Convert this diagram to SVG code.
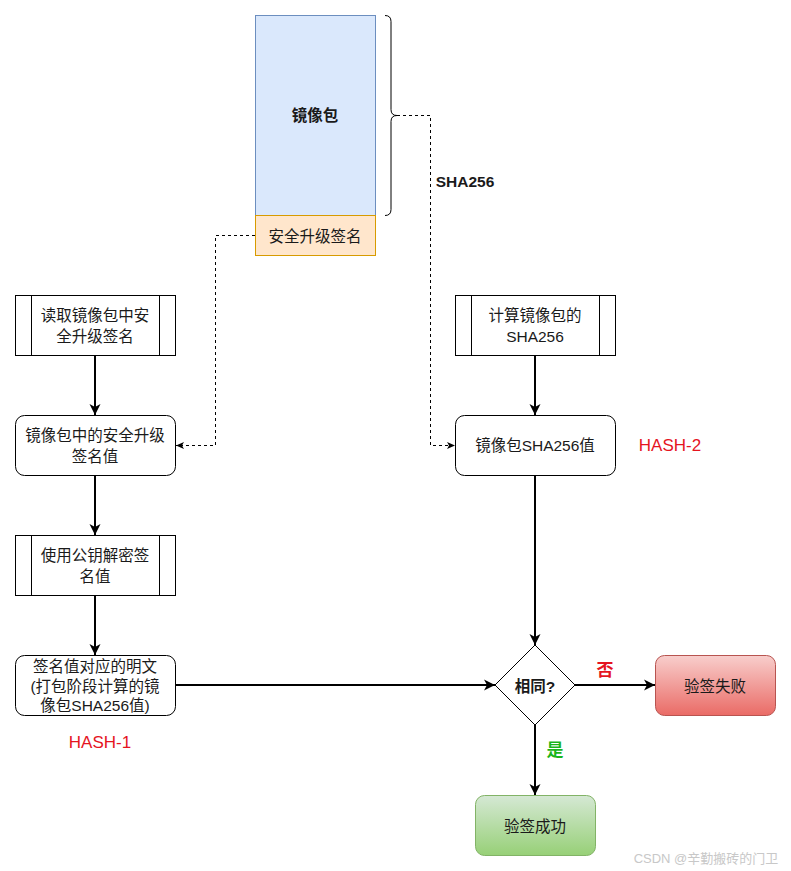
<svg xmlns="http://www.w3.org/2000/svg" width="791" height="871" viewBox="0 0 791 871">
<defs>
<style>
text{font-family:"Liberation Sans","Noto Sans CJK SC",sans-serif;font-size:15.5px;fill:#1a1a1a;text-anchor:middle;dominant-baseline:central}
.b{font-weight:bold}
.box{fill:#fff;stroke:#000;stroke-width:1}
.main{fill:none;stroke:#000;stroke-width:2}
.dash{fill:none;stroke:#000;stroke-width:1;stroke-dasharray:3 3}
.red{fill:#e5141f}
.green{fill:#1ab51a}
</style>
<marker id="ah" markerUnits="userSpaceOnUse" viewBox="0 0 12 12" refX="11" refY="6" markerWidth="12" markerHeight="12" orient="auto">
<path d="M0,0.5 L11,6 L0,11.5 L3,6 z" fill="#000"/>
</marker>
<marker id="ahs" markerUnits="userSpaceOnUse" viewBox="0 0 8 8" refX="8" refY="4" markerWidth="8" markerHeight="8" orient="auto">
<path d="M0,0.5 L8,4 L0,7.5 L2,4 z" fill="#000"/>
</marker>
<linearGradient id="gr" x1="0" y1="0" x2="0" y2="1">
<stop offset="0" stop-color="#f8cecc"/><stop offset="1" stop-color="#ea6b66"/>
</linearGradient>
<linearGradient id="gg" x1="0" y1="0" x2="0" y2="1">
<stop offset="0" stop-color="#d5e8d4"/><stop offset="1" stop-color="#97d077"/>
</linearGradient>
</defs>
<rect width="791" height="871" fill="#fff"/>

<g id="connectors">
<path class="dash" d="M397,115.5 H430.5 V445.5 H455" marker-end="url(#ahs)"/>
<path class="dash" d="M255,235.5 H215.5 V445.5 H176" marker-end="url(#ahs)"/>
<path class="main" d="M95,355 V415" marker-end="url(#ah)"/>
<path class="main" d="M95,475 V535" marker-end="url(#ah)"/>
<path class="main" d="M95,595 V655" marker-end="url(#ah)"/>
<path class="main" d="M535,355 V415" marker-end="url(#ah)"/>
<path class="main" d="M535,475 V645" marker-end="url(#ah)"/>
<path class="main" d="M175,685 H495" marker-end="url(#ah)"/>
<path class="main" d="M575,685 H655" marker-end="url(#ah)"/>
<path class="main" d="M535,725 V795" marker-end="url(#ah)"/>
</g>

<g id="image-pkg">
<rect x="255.5" y="15.5" width="120" height="200" fill="#dae8fc" stroke="#6c8ebf"/>
<text class="b" x="315" y="115">镜像包</text>
</g>
<g id="sig">
<rect x="255.5" y="215.5" width="120" height="40" fill="#ffe6cc" stroke="#d79b00"/>
<text x="315" y="236">安全升级签名</text>
</g>
<g id="brace">
<path d="M385,15.5 Q391,15.5 391,21.5 L391,109.5 Q391,115.5 397,115.5 Q391,115.5 391,121.5 L391,209.5 Q391,215.5 385,215.5" fill="none" stroke="#000" stroke-width="1"/>
<text class="b" x="465" y="181">SHA256</text>
</g>

<g id="read-sig">
<rect class="box" x="15.5" y="295.5" width="160" height="60"/>
<path d="M31.5,295.5 V355.5 M159.5,295.5 V355.5" stroke="#000" fill="none"/>
<text x="95" y="315">读取镜像包中安</text>
<text x="95" y="336">全升级签名</text>
</g>
<g id="sig-value">
<rect class="box" x="15.5" y="415.5" width="160" height="60" rx="9"/>
<text x="95" y="435">镜像包中的安全升级</text>
<text x="95" y="456">签名值</text>
</g>
<g id="decrypt">
<rect class="box" x="15.5" y="535.5" width="160" height="60"/>
<path d="M31.5,535.5 V595.5 M159.5,535.5 V595.5" stroke="#000" fill="none"/>
<text x="95" y="555">使用公钥解密签</text>
<text x="95" y="576">名值</text>
</g>
<g id="plain">
<rect class="box" x="15.5" y="655.5" width="160" height="60" rx="9"/>
<text x="95" y="666">签名值对应的明文</text>
<text x="95" y="686">(打包阶段计算的镜</text>
<text x="95" y="705">像包SHA256值)</text>
</g>
<text class="red" x="100" y="742" style="font-size:17px">HASH-1</text>

<g id="calc">
<rect class="box" x="455.5" y="295.5" width="160" height="60"/>
<path d="M471.5,295.5 V355.5 M599.5,295.5 V355.5" stroke="#000" fill="none"/>
<text x="535" y="315">计算镜像包的</text>
<text x="535" y="336">SHA256</text>
</g>
<g id="hash-value">
<rect class="box" x="455.5" y="415.5" width="160" height="60" rx="9"/>
<text x="535" y="445">镜像包SHA256值</text>
</g>
<text class="red" x="670" y="445" style="font-size:17px">HASH-2</text>

<g id="same">
<path d="M535,645 L575,685 L535,725 L495,685 Z" fill="#fff" stroke="#000"/>
<text class="b" x="535" y="686">相同?</text>
</g>
<text class="b red" x="605" y="670" style="font-size:17px">否</text>
<text class="b green" x="555" y="750" style="font-size:17px">是</text>

<g id="fail">
<rect x="655.5" y="655.5" width="120" height="60" rx="9" fill="url(#gr)" stroke="#b85450"/>
<text x="715" y="686">验签失败</text>
</g>
<g id="success">
<rect x="475.5" y="795.5" width="120" height="60" rx="9" fill="url(#gg)" stroke="#82b366"/>
<text x="535" y="826">验签成功</text>
</g>

<text x="706" y="858" style="font-size:13px;fill:#c8c8c8">CSDN @辛勤搬砖的门卫</text>
</svg>
